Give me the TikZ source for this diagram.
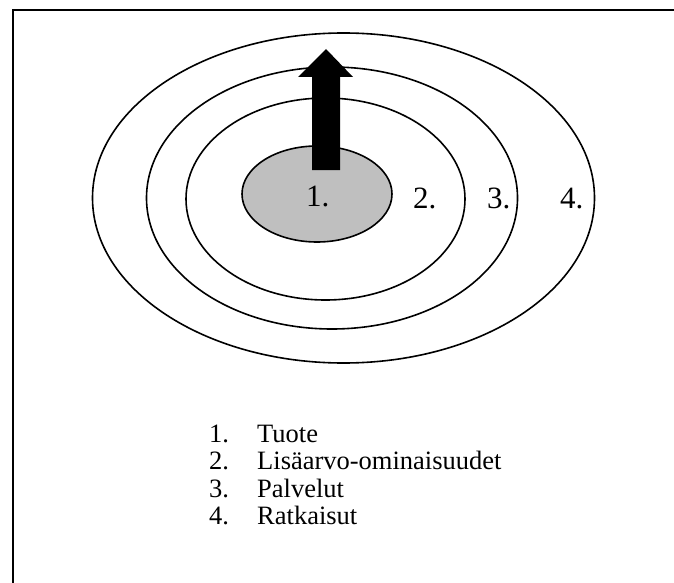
\documentclass[tikz,border=0pt]{standalone}
\usepackage{fontspec}
\setmainfont{Liberation Serif}
\usetikzlibrary{shapes.geometric}

\tikzset{
  ring/.style={ellipse, draw, line width=1.6pt, inner sep=0pt},
  num/.style={anchor=base west, inner sep=0pt, font=\fontsize{31}{31}\selectfont},
  item/.style={anchor=base west, inner sep=0pt, font=\fontsize{26.5}{26.5}\selectfont}
}

\begin{document}
\begin{tikzpicture}[x=1pt, y=-1pt]
	\useasboundingbox (0,0) rectangle (674,583);
	\draw[line width=1.8pt] (13,583) -- (13,10) -- (674,10);

	\node[ring, minimum width=502pt, minimum height=330pt] (R4) at (343.5,198) {};
	\node[ring, minimum width=371pt, minimum height=262pt] (R3) at (332,198) {};
	\node[ring, minimum width=279pt, minimum height=202pt] (R2) at (325.5,199) {};
	\node[ring, fill=black!25, minimum width=150pt, minimum height=96pt] (R1) at (317,194) {};

	\fill (312,170) -- (312,77) -- (298,77) -- (326,49) -- (353,77) -- (340,77) -- (340,170) -- cycle;

	\node[num] (L1) at (306,206) {1.};
	\node[num] (L2) at (413,208) {2.};
	\node[num] (L3) at (487,208) {3.};
	\node[num] (L4) at (560,208) {4.};

	\node[item] (T1) at (209,442) {\makebox[48pt][l]{1.}Tuote};
	\node[item] (T2) at (209,469.5) {\makebox[48pt][l]{2.}Lisäarvo-ominaisuudet};
	\node[item] (T3) at (209,497) {\makebox[48pt][l]{3.}Palvelut};
	\node[item] (T4) at (209,524.5) {\makebox[48pt][l]{4.}Ratkaisut};
\end{tikzpicture}
\end{document}
